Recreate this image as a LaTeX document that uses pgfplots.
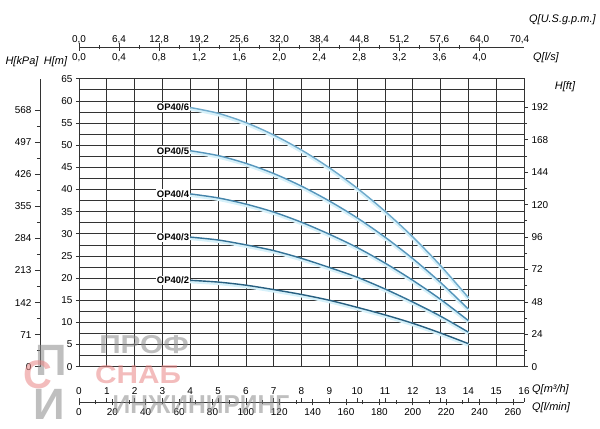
\documentclass[border=0pt]{standalone}
\usepackage{fontspec}
\setmainfont{Liberation Sans}
\usepackage{pgfplots}
\pgfplotsset{compat=1.18}
\definecolor{gridc}{HTML}{333333}
\definecolor{c6}{HTML}{70AACB}
\definecolor{c5}{HTML}{5796BC}
\definecolor{c4}{HTML}{4584AA}
\definecolor{c3}{HTML}{357296}
\definecolor{c2}{HTML}{285F80}
\definecolor{glow}{HTML}{D6F1FA}
\definecolor{wmgray}{HTML}{8A8A8A}
\definecolor{wmred}{HTML}{E98585}

\pgfplotsset{
  base/.style={scale only axis, width=445bp,
    tick label style={font=\fontsize{10}{12}\selectfont},
    axis line style={gridc,line width=0.8bp},
    every tick/.style={gridc,line width=0.7bp},
    /pgf/number format/assume math mode=true},
  curve/.style={#1,line width=1.4bp,smooth},
  halo/.style={glow,line width=3.5bp,smooth,yshift=-1.3bp},
}

\begin{document}
\begin{tikzpicture}
\useasboundingbox (-79bp,-62.3bp) rectangle (521bp,366.7bp);

% main chart H[m] vs Q[m3/h]
\begin{axis}[base, name=main, at={(0,0)}, anchor=south west, height=288bp,
  xmin=0, xmax=16, ymin=0, ymax=65,
  xtick={0,...,16}, xticklabels={}, xtick style={draw=none},
  ytick={0,5,...,65}, minor ytick={2.5,7.5,...,62.5},
  ytick pos=left, tick align=outside, major tick length=3bp, minor tick length=0bp,
  grid=both, major grid style={gridc,line width=0.7bp}, minor grid style={gridc,line width=0.7bp},
  clip=false]
\addplot[halo] coordinates {(4,58.5)(5,57.2)(6,55.1)(7,52.3)(8,48.9)(9,44.9)(10,40.3)(11,35.1)(12,29.3)(13,22.8)(14,15.6)};
\addplot[curve=c6] coordinates {(4,58.5)(5,57.2)(6,55.1)(7,52.3)(8,48.9)(9,44.9)(10,40.3)(11,35.1)(12,29.3)(13,22.8)(14,15.6)};
\addplot[halo] coordinates {(4,48.75)(5,47.65)(6,45.9)(7,43.6)(8,40.75)(9,37.4)(10,33.6)(11,29.25)(12,24.4)(13,19.0)(14,13.0)};
\addplot[curve=c5] coordinates {(4,48.75)(5,47.65)(6,45.9)(7,43.6)(8,40.75)(9,37.4)(10,33.6)(11,29.25)(12,24.4)(13,19.0)(14,13.0)};
\addplot[halo] coordinates {(4,39.0)(5,38.1)(6,36.7)(7,34.9)(8,32.6)(9,29.9)(10,26.9)(11,23.4)(12,19.5)(13,15.2)(14,10.4)};
\addplot[curve=c4] coordinates {(4,39.0)(5,38.1)(6,36.7)(7,34.9)(8,32.6)(9,29.9)(10,26.9)(11,23.4)(12,19.5)(13,15.2)(14,10.4)};
\addplot[halo] coordinates {(4,29.25)(5,28.6)(6,27.5)(7,26.2)(8,24.45)(9,22.4)(10,20.2)(11,17.55)(12,14.6)(13,11.4)(14,7.8)};
\addplot[curve=c3] coordinates {(4,29.25)(5,28.6)(6,27.5)(7,26.2)(8,24.45)(9,22.4)(10,20.2)(11,17.55)(12,14.6)(13,11.4)(14,7.8)};
\addplot[halo] coordinates {(4,19.5)(5,19.1)(6,18.4)(7,17.4)(8,16.3)(9,15.0)(10,13.4)(11,11.7)(12,9.8)(13,7.6)(14,5.2)};
\addplot[curve=c2] coordinates {(4,19.5)(5,19.1)(6,18.4)(7,17.4)(8,16.3)(9,15.0)(10,13.4)(11,11.7)(12,9.8)(13,7.6)(14,5.2)};
\begin{scope}[every node/.style={anchor=east,fill=white,inner sep=1bp,font=\bfseries\fontsize{9.5}{11}\selectfont}]
\node at (axis cs:4,58.5) {OP40/6};
\node at (axis cs:4,48.75) {OP40/5};
\node at (axis cs:4,39) {OP40/4};
\node at (axis cs:4,29.25) {OP40/3};
\node at (axis cs:4,19.5) {OP40/2};
\end{scope}
\end{axis}

% right scale H[ft]
\begin{axis}[base, at={(main.south west)}, anchor=south west, height=288bp,
  hide x axis, axis y line*=right, xmin=0, xmax=1, ymin=0, ymax=213.25,
  ytick={0,24,...,192}, minor y tick num=1, tick align=outside,
  major tick length=4bp, minor tick length=3bp]
\addplot[draw=none] coordinates {(0,0)(1,213.25)};
\end{axis}

% left scale H[kPa]
\begin{axis}[base, width=20bp, at={(main.south west)}, xshift=-39bp, anchor=south west, height=288bp,
  hide x axis, axis y line*=left, xmin=0, xmax=1, ymin=0, ymax=637.65,
  ytick={0,71,142,213,284,355,426,497,568}, minor y tick num=1, tick align=outside,
  major tick length=5bp, minor tick length=3bp]
\addplot[draw=none] coordinates {(0,0)(1,637.65)};
\end{axis}

% top scale Q[l/s]
\begin{axis}[base, at={(main.north west)}, yshift=31.7bp, anchor=south west, height=1bp,
  hide y axis, axis x line*=bottom, xmin=0, xmax=4.4444, ymin=0, ymax=1,
  xtick={0,0.4,0.8,1.2,1.6,2.0,2.4,2.8,3.2,3.6,4.0}, minor x tick num=1,
  xticklabels={{0,0},{0,4},{0,8},{1,2},{1,6},{2,0},{2,4},{2,8},{3,2},{3,6},{4,0}},
  tick align=center, major tick length=7bp, minor tick length=4bp]
\addplot[draw=none] coordinates {(0,0)(4.4444,1)};
\end{axis}
% top scale Q[U.S.g.p.m.]
\begin{axis}[base, at={(main.north west)}, yshift=31.7bp, anchor=north west, height=1bp,
  hide y axis, axis x line*=top, axis line style={draw=none}, xmin=0, xmax=4.4444, ymin=0, ymax=1,
  xtick={0,0.4,0.8,1.2,1.6,2.0,2.4,2.8,3.2,3.6,4.0,4.4}, major tick length=0bp,
  xticklabels={{0,0},{6,4},{12,8},{19,2},{25,6},{32,0},{38,4},{44,8},{51,2},{57,6},{64,0},{70,4}}]
\addplot[draw=none] coordinates {(0,0)(4.4444,1)};
\end{axis}

% bottom scale Q[l/min]
\begin{axis}[base, at={(main.south west)}, yshift=-35.6bp, anchor=south west, height=1bp,
  hide y axis, axis x line*=bottom, xmin=0, xmax=266.667, ymin=0, ymax=1,
  xtick={0,20,...,260}, minor x tick num=1,
  tick align=center, major tick length=6bp, minor tick length=4bp]
\addplot[draw=none] coordinates {(0,0)(266.667,1)};
\end{axis}
% bottom scale Q[m3/h]
\begin{axis}[base, at={(main.south west)}, yshift=-35.6bp, anchor=north west, height=1bp,
  hide y axis, axis x line*=top, axis line style={draw=none}, xmin=0, xmax=16, ymin=0, ymax=1,
  xtick={0,...,16}, tick align=outside, major tick length=4bp]
\addplot[draw=none] coordinates {(0,0)(16,1)};
\end{axis}

% axis titles
\begin{scope}[every node/.style={font=\itshape\fontsize{11}{13}\selectfont,inner sep=0pt}]
\node at (-57bp,304.7bp) {H[kPa]};
\node at (-23.5bp,304.7bp) {H[m]};
\node[anchor=west] at (450bp,346.7bp) {Q[U.S.g.p.m.]};
\node[anchor=west] at (454bp,308.7bp) {Q[l/s]};
\node at (486bp,279.7bp) {H[ft]};
\node[anchor=west] at (453bp,-23.3bp) {Q[m³/h]};
\node[anchor=west] at (453bp,-41.3bp) {Q[l/min]};
\end{scope}

% watermark
\begin{scope}[opacity=0.55,every node/.style={inner sep=0pt,font=\bfseries\fontsize{26}{26}\selectfont}]
\node[text=wmgray,xscale=1.15] at (65bp,21.7bp) {ПРОФ};
\node[text=wmred,xscale=1.15] at (59bp,-8.3bp) {СНАБ};
\node[text=wmgray,xscale=0.95] at (122bp,-38.3bp) {ИНЖИНИРИНГ};
\node[text=wmgray,font=\bfseries\fontsize{44}{44}\selectfont] at (-28bp,6bp) {П};
\node[text=wmred,font=\bfseries\fontsize{40}{40}\selectfont] at (-41bp,-8bp) {С};
\node[text=wmgray,font=\bfseries\fontsize{44}{44}\selectfont] at (-30bp,-38bp) {И};
\end{scope}
\end{tikzpicture}
\end{document}
